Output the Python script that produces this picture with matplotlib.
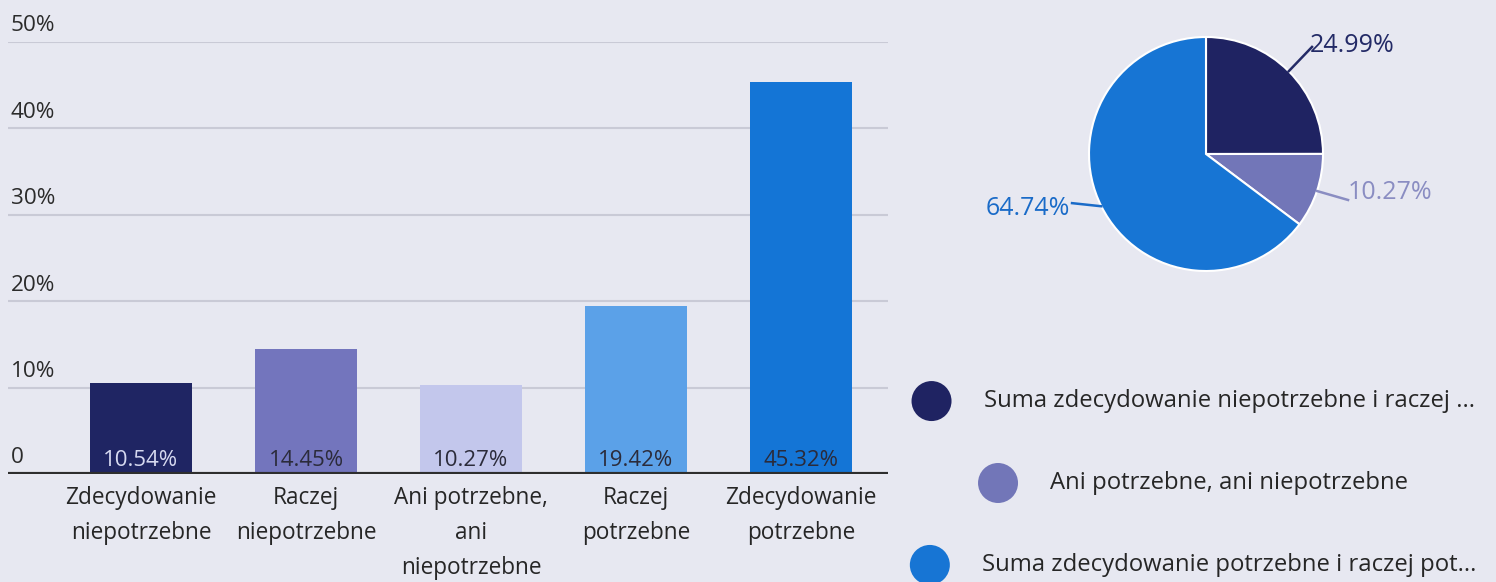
import matplotlib
matplotlib.use("Agg")
import numpy as np
import matplotlib.pyplot as plt
from matplotlib.patches import Circle
from matplotlib.offsetbox import DrawingArea, TextArea, HPacker, VPacker, AnchoredOffsetbox
import matplotlib.transforms as mtransforms

plt.rcParams["font.family"] = ["Open Sans", "DejaVu Sans"]

# --- data ---
categories = ["Zdecydowanie\nniepotrzebne", "Raczej\nniepotrzebne",
              "Ani potrzebne,\nani\nniepotrzebne", "Raczej\npotrzebne",
              "Zdecydowanie\npotrzebne"]
bar_values = [10.54, 14.45, 10.27, 19.42, 45.32]
bar_colors = ["#1f2563", "#7375bd", "#c3c7ec", "#5ba1e8", "#1475d6"]
bar_label_colors = ["#d6d9f0", "#2b2b3a", "#2b2b3a", "#2b2b3a", "#2b2b3a"]
y_ticks = [0, 10, 20, 30, 40, 50]
y_tick_labels = ["0", "10%", "20%", "30%", "40%", "50%"]

pie_values = [24.99, 10.27, 64.74]
pie_colors = ["#1f2362", "#7276b8", "#1775d4"]
pie_label_colors = ["#232a66", "#8a8dc2", "#1a6bc8"]
legend_labels = ["Suma zdecydowanie niepotrzebne i raczej ...",
                 "Ani potrzebne, ani niepotrzebne",
                 "Suma zdecydowanie potrzebne i raczej pot..."]

BG = "#e7e8f1"
W, H = 1496, 582

fig = plt.figure(figsize=(W / 100, H / 100), dpi=100, facecolor=BG)

# --- bar chart ---
ax = fig.add_axes([8 / W, 108 / H, 880 / W, 432 / H])
ax.set_facecolor(BG)
x = list(range(len(bar_values)))
ax.bar(x, bar_values, width=0.62, color=bar_colors, zorder=3)
ax.set_xlim(-0.806, 4.527)
ax.set_ylim(0, 50)
for s in ax.spines.values():
    s.set_visible(False)
for t in y_ticks[1:]:
    ax.axhline(t, color="#c9cad6", linewidth=1.5, zorder=1)
ax.axhline(0, color="#2e2e2e", linewidth=3, zorder=4)
ax.set_yticks([])
ax.set_xticks(x)
ax.set_xticklabels(categories, fontsize=16.3, color="#262626", linespacing=1.6)
ax.tick_params(axis="x", length=0, pad=9)

trans = mtransforms.blended_transform_factory(ax.transAxes, ax.transData)
for t, lab in zip(y_ticks, y_tick_labels):
    ax.annotate(lab, xy=(0.003, t), xycoords=trans, xytext=(0, 4),
                textcoords="offset points", ha="left", va="bottom",
                fontsize=16.2, color="#2b2b2b")

for xi, v, c in zip(x, bar_values, bar_label_colors):
    ax.annotate(f"{v:.2f}%", xy=(xi, 0), xytext=(0, 2), textcoords="offset points",
                ha="center", va="bottom", fontsize=16, color=c, zorder=5)

# --- pie chart ---
cx, cy, r = 1206, 582 - 154, 117
pax = fig.add_axes([(cx - r) / W, (cy - r) / H, 2 * r / W, 2 * r / H])
pax.set_facecolor("none")
pax.axis("off")
wedges, _ = pax.pie(pie_values, colors=pie_colors, startangle=90, counterclock=False,
                    radius=1, wedgeprops=dict(edgecolor="white", linewidth=1.5))
pax.set_xlim(-1, 1)
pax.set_ylim(-1, 1)

# (leader line end, text anchor, alignment)
label_pos = [((0.906, 0.915), (0.89, 0.93), "left"),
             ((1.214, -0.393), (1.215, -0.325), "left"),
             ((-1.145, -0.42), (-1.165, -0.462), "right")]
for w, v, c, (lend, tpos, ha) in zip(wedges, pie_values, pie_label_colors, label_pos):
    ang = np.deg2rad((w.theta1 + w.theta2) / 2)
    px, py = np.cos(ang), np.sin(ang)
    pax.plot([px, lend[0]], [py, lend[1]], color=c, linewidth=1.8, clip_on=False)
    pax.text(tpos[0], tpos[1], f"{v:.2f}%", ha=ha, va="center", fontsize=18,
             color=c, clip_on=False)

# --- legend ---
rows = []
for lab, col in zip(legend_labels, pie_colors):
    da = DrawingArea(29, 29, 0, 0)
    da.add_artist(Circle((14.5, 14.5), 14.4, fc=col, ec="none"))
    ta = TextArea(lab, textprops=dict(fontsize=17.2, color="#262626"))
    rows.append(HPacker(children=[da, ta], align="center", pad=0, sep=23))
box = VPacker(children=rows, align="center", pad=0, sep=30)
anch = AnchoredOffsetbox(loc="center", child=box, pad=0, borderpad=0,
                         bbox_to_anchor=(1193 / W, 1 - 483 / H),
                         bbox_transform=fig.transFigure, frameon=False)
fig.add_artist(anch)

fig.savefig("out.png", dpi=100, facecolor=BG)
